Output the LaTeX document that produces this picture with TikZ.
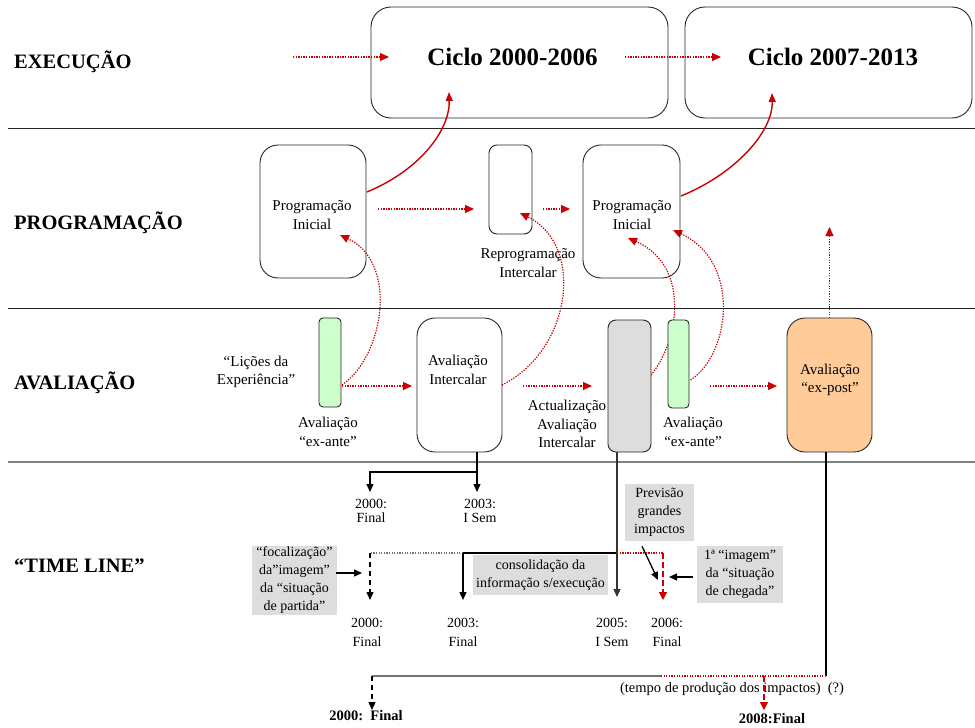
\documentclass[tikz,border=0pt]{standalone}
\usepackage{fontspec}
\setmainfont{Liberation Serif}
\usetikzlibrary{arrows.meta,calc}
\pgfdeclarelayer{back}
\pgfdeclarelayer{bg}
\pgfsetlayers{back,bg,main}
\definecolor{myred}{RGB}{204,0,0}
\definecolor{boxgrey}{RGB}{221,221,221}
\definecolor{lgreen}{RGB}{204,255,204}
\definecolor{lorange}{RGB}{255,204,153}
\newcommand{\myfs}[2]{\fontsize{#1}{#2}\selectfont}
\begin{document}
\begin{tikzpicture}[x=1pt,y=-1pt,
  rbox/.style={draw=black!85, line width=0.9pt, inner sep=0pt, outer sep=0pt},
  rowlbl/.style={inner sep=0pt, anchor=west, font=\bfseries\myfs{20.5}{24}},
  bigtxt/.style={inner sep=0pt, font=\bfseries\myfs{25}{28}},
  lbl/.style={inner sep=0pt, align=center, font=\myfs{15}{18.5}},
  tlup/.style={inner sep=0pt, align=center, font=\myfs{14}{14}},
  tllo/.style={inner sep=0pt, align=center, font=\myfs{14}{19}},
  gbox/.style={fill=boxgrey, inner sep=0pt, align=center, font=\myfs{14}{18}},
  rdot/.style={draw=myred, dash pattern=on 1.3pt off 1.3pt, line width=1.2pt, -{Triangle[length=9pt,width=8pt]}},
  rdotl/.style={draw=myred, dash pattern=on 1.3pt off 1.3pt, line width=1.2pt},
  rcurve/.style={draw=myred, line width=1.4pt, -{Triangle[length=9pt,width=7pt]}},
  bline/.style={draw=black, line width=1.3pt},
  gline/.style={draw=black!55, line width=1.5pt},
  gdot/.style={draw=black!55, dash pattern=on 1.3pt off 1.3pt, line width=1.2pt},
  barrow/.style={draw=black, line width=1.3pt, -{Triangle[length=8pt,width=7pt]}},
  rarrow/.style={draw=myred, line width=1.3pt, -{Triangle[length=8pt,width=8pt]}}
]
\begin{pgfonlayer}{back}
\fill[white] (0,0) rectangle (975,728);
\end{pgfonlayer}
\useasboundingbox (0,0) rectangle (975,728);

% separators
\draw[black!85, line width=1pt] (8,128) -- (975,128);
\draw[black!85, line width=1pt] (8,308) -- (975,308);
\draw[black!50, line width=1.6pt] (8,462) -- (975,462);

% row labels
\node[rowlbl] (lexec) at (14,62) {EXECUÇÃO};
\node[rowlbl] (lprog) at (14,223) {PROGRAMAÇÃO};
\node[rowlbl] (laval) at (14,383) {AVALIAÇÃO};
\node[rowlbl] (ltl) at (14,566) {“TIME LINE”};

% execution boxes
\node[rbox, rounded corners=20pt, minimum width=297pt, minimum height=111pt] (c1) at (519.5,62.5) {};
\node[bigtxt] (c1t) at (512.5,57) {Ciclo 2000-2006};
\node[rbox, rounded corners=20pt, minimum width=287pt, minimum height=111pt] (c2) at (828.5,62.5) {};
\node[bigtxt] (c2t) at (833,57) {Ciclo 2007-2013};
\coordinate (e0) at (293,57);
\draw[rdot] (e0) -- ($(c1.west)+(18,-5.5)$);
\draw[rdot] ($(c1.east)+(-43,-5.5)$) -- ($(c2.west)+(36,-5.5)$);

% programming boxes
\node[rbox, rounded corners=18pt, minimum width=106pt, minimum height=133pt] (p1) at (313,211.5) {};
\node[lbl] (p1t) at (312,215) {Programação\\Inicial};
\node[rbox, rounded corners=8pt, minimum width=43pt, minimum height=89pt] (rp) at (510.5,189.5) {};
\node[lbl] (rpt) at (528,263) {Reprogramação\\Intercalar};
\node[rbox, rounded corners=18pt, minimum width=97pt, minimum height=133pt] (p2) at (631.5,211.5) {};
\node[lbl] (p2t) at (632,215) {Programação\\Inicial};

\draw[rcurve] ($(p1.east)+(1,-19.5)$) .. controls (420,170) and (450,130) .. ($(c1.south)+(-70.5,-26)$);
\draw[rcurve] ($(p2.east)+(1,-15.5)$) .. controls (735,174) and (773,132) .. ($(c2.south)+(-56.5,-25)$);
\draw[rdot] ($(p1.east)+(12,-2.5)$) -- ($(rp.west)+(-15,19.5)$);
\draw[rdot] ($(rp.east)+(11,19.5)$) -- ($(p2.west)+(-13,-2.5)$);

% evaluation boxes
\node[rbox, fill=lgreen, rounded corners=4pt, minimum width=22pt, minimum height=89pt] (g1) at (330,362.5) {};
\node[lbl] (lic) at (256,372) {“Lições da\\Experiência”};
\node[lbl] (ea1) at (328,432) {Avaliação\\“ex-ante”};
\node[rbox, rounded corners=18pt, minimum width=85pt, minimum height=134pt] (ai) at (459.5,385) {};
\node[lbl] (ait) at (458,370) {Avaliação\\Intercalar};
\node[lbl] (act) at (567,424) {Actualização\\Avaliação\\Intercalar};
\node[rbox, fill=boxgrey, rounded corners=8pt, minimum width=43pt, minimum height=132pt] (gr) at (629.5,386) {};
\node[rbox, fill=lgreen, rounded corners=4pt, minimum width=21pt, minimum height=88pt] (g2) at (678.5,364) {};
\node[lbl] (ea2) at (693,432) {Avaliação\\“ex-ante”};
\node[rbox, fill=lorange, rounded corners=18pt, minimum width=85pt, minimum height=134pt] (op) at (829.5,385) {};
\node[lbl] (opt) at (830,380) {Avaliação\\“ex-post”};

\begin{pgfonlayer}{bg}
\draw[rdot] ($(g1.east)+(1,22.5)$) .. controls (385,355) and (398,262) .. ($(p1.center)+(27,23.5)$);
\draw[rdot] (ai.east) .. controls (572,350) and (585,245) .. ($(rp.center)+(9.5,23.5)$);
\draw[rdot] ($(gr.east)+(0,-11)$) .. controls (680,340) and (690,265) .. ($(p2.center)+(-3.5,26.5)$);
\draw[rdot] ($(g2.east)+(1.5,16)$) .. controls (730,355) and (742,262) .. ($(p2.center)+(41.5,18.5)$);
\end{pgfonlayer}
\draw[rdot] ($(g1.east)+(1,23.5)$) -- ($(ai.west)+(-5,1)$);
\draw[rdot] ($(ai.east)+(21,1)$) -- ($(gr.west)+(-16,0)$);
\draw[rdot] ($(g2.east)+(21,22)$) -- ($(op.west)+(-10,1)$);
\coordinate (opup) at (829.5,227);
\draw[rdot] (op.north) -- (opup);

% time line: from Avaliacao Intercalar
\coordinate (aiB) at ($(ai.south)+(17.5,0)$);
\coordinate (aiK) at (477,472);
\coordinate (tA1) at (370,492);
\coordinate (tA2) at (477,492);
\draw[barrow] (aiB) -- (tA2);
\draw[barrow] (aiK) -| (tA1);
\node[tlup] (t00a) at (371,511) {2000:\\Final};
\node[tlup] (t03a) at (480,511) {2003:\\I Sem};

% time line: from grey box
\coordinate (grB) at ($(gr.south)+(-12.5,0)$);
\coordinate (grT) at (617,597);
\coordinate (h1) at (617,553);
\coordinate (h2) at (463,553);
\coordinate (h3) at (370,553);
\coordinate (h4) at (663,553);
\coordinate (tB1) at (370,600);
\coordinate (tB2) at (463,600);
\coordinate (tB4) at (663,600);
\draw[gdot] (h2) -- (h3);
\draw[bline] (h1) -- (h2);
\draw[rdotl] (h1) -- (h4);
\draw[barrow, draw=black!80] (grB) -- (grT);
\draw[barrow, dash pattern=on 5pt off 4pt] (h3) -- (tB1);
\draw[barrow] (h2) -- (tB2);
\draw[rarrow, dash pattern=on 6pt off 3pt] (h4) -- (tB4);

\node[gbox, minimum width=85pt, minimum height=69pt] (foc) at (294.5,580.5) {“focalização”\\da”imagem”\\da “situação\\de partida”};
\node[gbox, minimum width=135pt, minimum height=40pt] (cons) at (540.5,575) {consolidação da\\informação s/execução};
\node[gbox, minimum width=69pt, minimum height=57pt] (prev) at (659.5,512.5) {Previsão\\grandes\\impactos};
\node[gbox, minimum width=86pt, minimum height=57pt] (imag) at (740,574.5) {1ª “imagem”\\da “situação\\de chegada”};
\draw[barrow] ($(foc.east)+(-1,-7.5)$) -- ($(h3)+(-8,20)$);
\draw[barrow] ($(prev.south)+(-17.5,5)$) -- ($(h4)+(-5,27)$);
\draw[barrow] ($(imag.west)+(-4,2.5)$) -- ($(h4)+(6,24)$);

\node[tllo] (t00b) at (367,632) {2000:\\Final};
\node[tllo] (t03b) at (463,632) {2003:\\Final};
\node[tllo] (t05b) at (612,632) {2005:\\I Sem};
\node[tllo] (t06b) at (667,632) {2006:\\Final};

% time line: from ex-post
\node[inner sep=0pt, font=\myfs{14.5}{17}] (tempo) at (732,689) {(tempo de produção dos impactos)~~(?)};
\coordinate (opB) at ($(op.south)+(-3.5,0)$);
\coordinate (b1) at (826,676);
\coordinate (b2) at (661,676);
\coordinate (b3) at (372,676);
\coordinate (b4) at (764,676);
\coordinate (tC1) at (372,710);
\coordinate (tC4) at (764,710);
\draw[bline] (opB) -- (b1);
\draw[rdotl] (b1) -- (b2);
\draw[gline] (b2) -- (b3);
\draw[barrow, dash pattern=on 5pt off 4pt] (b3) -- (tC1);
\draw[rarrow, dash pattern=on 6pt off 3pt] (b4) -- (tC4);
\node[inner sep=0pt, font=\bfseries\myfs{14.5}{17}] (f2000) at (366,716) {2000:~~Final};
\node[inner sep=0pt, font=\bfseries\myfs{14.5}{17}] (f2008) at (772,719) {2008:Final};
\end{tikzpicture}
\end{document}
